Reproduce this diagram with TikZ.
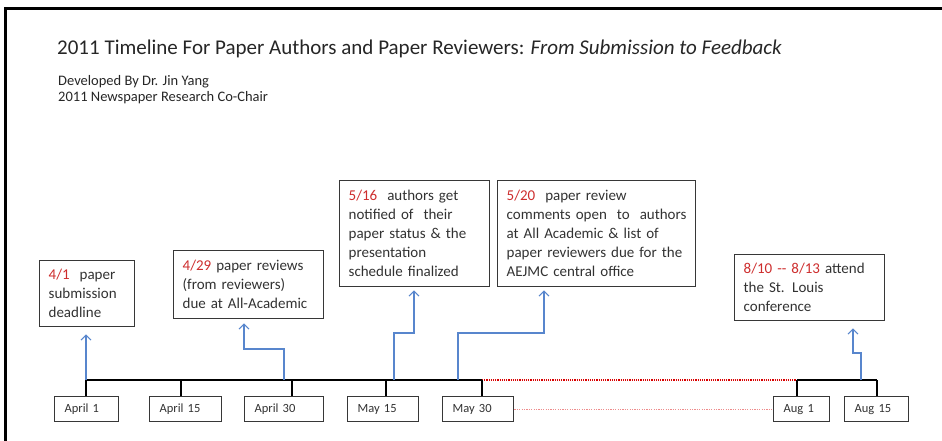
\documentclass[tikz,border=0pt]{standalone}
\usepackage{fontspec}
\setmainfont{Carlito}
\usetikzlibrary{arrows.meta}
\definecolor{txt}{RGB}{50,50,50}
\definecolor{titletxt}{RGB}{38,38,38}
\definecolor{datered}{RGB}{205,45,45}
\definecolor{arrowblue}{RGB}{88,134,205}
\definecolor{boxline}{RGB}{55,55,55}
\definecolor{pinkdot}{RGB}{238,140,140}
\newcommand{\dt}[1]{\textcolor{datered}{#1}}
\tikzset{
  event/.style={draw=boxline, line width=1.3pt, anchor=north west, align=left,
    inner xsep=9pt, inner ysep=0pt, font=\fontsize{15}{19}\selectfont, text=txt},
  datebox/.style={draw=boxline, line width=1.3pt, anchor=north west, align=left,
    inner xsep=10pt, inner ysep=0pt, minimum height=25pt,
    font=\fontsize{12.5}{14}\selectfont, text=txt},
  tl/.style={line width=1.2pt, black},
  conn/.style={arrowblue, line width=1.1pt, -{Straight Barb[length=5pt,width=10pt]}},
}
\begin{document}
\begin{tikzpicture}[x=1pt, y=-1pt]
\useasboundingbox (0,0) rectangle (942,441);
% frame (left and top)
\draw[line width=3pt, black] (5,441) -- (5,8.5) -- (942,8.5);
% titles
\node[anchor=base west, inner sep=0pt, text=titletxt, font=\fontsize{21}{24}\selectfont] (title) at (57,55)
  {2011 Timeline For Paper Authors and Paper Reviewers: \textit{From Submission to Feedback}};
\node[anchor=base west, inner sep=0pt, text=titletxt, font=\fontsize{14.5}{16}\selectfont] (sub1) at (58,86)
  {Developed By Dr. Jin Yang};
\node[anchor=base west, inner sep=0pt, text=titletxt, font=\fontsize{14.5}{16}\selectfont] (sub2) at (58,102)
  {2011 Newspaper Research Co-Chair};
% event boxes
\node[event, text width=77pt, minimum height=66pt] (e1) at (39,260)
  {\dt{4/1}\ \ paper\\ submission\\ deadline};
\node[event, text width=132pt, minimum height=68pt] (e2) at (173,250)
  {\dt{4/29} paper reviews\\ (from reviewers)\\ due at All-Academic};
\node[event, text width=132pt, minimum height=106pt] (e3) at (339,180)
  {\dt{5/16}\ \ authors get\\ notified of\ \ their\\ paper status \& the\\ presentation\\ schedule finalized};
\node[event, text width=180pt, minimum height=106pt] (e4) at (497,180)
  {\dt{5/20}\ \ paper review\\ comments open\ \ to\ \ authors\\ at All Academic \& list of\\ \mbox{paper reviewers due for the}\\ AEJMC central office};
\node[event, text width=132pt, minimum height=66pt] (e5) at (734,254)
  {\dt{8/10 -{}- 8/13} attend\\ the St. Louis\\ conference};
% date boxes
\node[datebox, text width=44pt] (d1) at (54,396) {April 1};
\node[datebox, text width=52pt] (d2) at (149,396) {April 15};
\node[datebox, text width=59pt] (d3) at (244,396) {April 30};
\node[datebox, text width=51pt] (d4) at (347,396) {May 15};
\node[datebox, text width=51pt] (d5) at (442,396) {May 30};
\node[datebox, text width=36pt] (d6) at (773,396) {Aug 1};
\node[datebox, text width=44pt] (d7) at (844,396) {Aug 15};
% tick coordinates on the timeline
\coordinate (t1) at (86,380);
\coordinate (t2) at (181,380);
\coordinate (t3) at (292,380);
\coordinate (t4) at (386,380);
\coordinate (t5) at (482,380);
\coordinate (t6) at (797,380);
\coordinate (t7) at (877,380);
% timeline
\draw[tl] (t1) -- (t5);
\draw[red!85!black, line width=1.2pt, densely dotted] (t5) -- (t6);
\draw[tl] (t6) -- (t7);
\foreach \i in {1,...,7} { \draw[tl] (t\i) -- (t\i |- d\i.north); }
\draw[pinkdot, line width=1.2pt, dash pattern=on 1.2pt off 1.2pt] (d5.east) -- (d6.west);
% arrows
\coordinate (a1) at (86,380);
\coordinate (a2) at (284,380); \coordinate (b2) at (244,349);
\coordinate (a3) at (394,380); \coordinate (b3) at (414,333);
\coordinate (a4) at (458,380); \coordinate (b4) at (544,333);
\coordinate (a5) at (861,380); \coordinate (b5) at (853,353);
\draw[conn, shorten >=7pt] (a1) -- (a1 |- e1.south);
\draw[conn, shorten >=4pt] (a2) |- (b2) -- (b2 |- e2.south);
\draw[conn, shorten >=3pt] (a3) |- (b3) -- (b3 |- e3.south);
\draw[conn, shorten >=3pt] (a4) |- (b4) -- (b4 |- e4.south);
\draw[conn, shorten >=7pt] (a5) |- (b5) -- (b5 |- e5.south);
\end{tikzpicture}
\end{document}
